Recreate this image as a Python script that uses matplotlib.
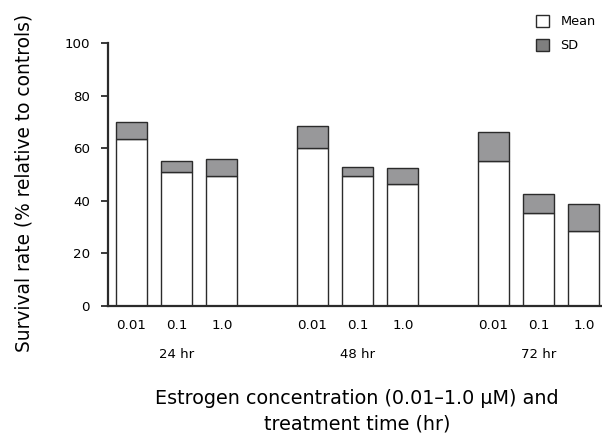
import numpy as np
import matplotlib
matplotlib.use("Agg")
import matplotlib.pyplot as plt
from matplotlib.patches import Patch

# values
groups = ["24 hr", "48 hr", "72 hr"]
concentrations = ["0.01", "0.1", "1.0"]
mean_24 = [63.5, 51.0, 49.4]
mean_48 = [60.0, 49.4, 46.5]
mean_72 = [55.1, 35.5, 28.4]
sd_24 = [6.5, 4.3, 6.5]
sd_48 = [8.4, 3.6, 5.8]
sd_72 = [11.2, 7.0, 10.5]
y_ticks = [0, 20, 40, 60, 80, 100]

EDGE = "#2b2b2b"
GRAY = "#98989a"
FONT = "DejaVu Sans"


def main():
    means = [mean_24, mean_48, mean_72]
    sds = [sd_24, sd_48, sd_72]

    fig = plt.figure(figsize=(6.02, 4.36), dpi=100)
    ax = fig.add_axes([108 / 602, 1 - 306 / 436, 1 - 108 / 602, (306 - 43) / 436])

    xpos, xlab = [], []
    for g, (m, s) in enumerate(zip(means, sds)):
        x = np.arange(3) + 4 * g
        ax.bar(x, m, width=0.685, color="white", edgecolor=EDGE, linewidth=1.0, zorder=2)
        ax.bar(x, s, bottom=m, width=0.685, color=GRAY, edgecolor=EDGE, linewidth=1.0, zorder=2)
        xpos.extend(x)
        xlab.extend(concentrations)
        ax.text(x[1], -0.186, groups[g], transform=ax.get_xaxis_transform(),
                ha="center", va="center", fontsize=9.5, family=FONT)

    ax.set_xlim(-0.513, 10.40)
    ax.set_ylim(0, 100)
    ax.set_xticks(xpos)
    ax.set_xticklabels(xlab, fontsize=9.7, family=FONT)
    ax.tick_params(axis="x", length=0, pad=9)
    ax.set_yticks(y_ticks)
    ax.set_yticklabels([str(v) for v in y_ticks], fontsize=9.6, family=FONT)
    ax.tick_params(axis="y", length=5, width=1.3, pad=8, color=EDGE)

    for side in ["top", "right"]:
        ax.spines[side].set_visible(False)
    for side in ["left", "bottom"]:
        ax.spines[side].set_linewidth(1.6)
        ax.spines[side].set_color(EDGE)

    fig.text(357 / 602, 1 - 411 / 436, "Estrogen concentration (0.01\u20131.0 \u03bcM) and\ntreatment time (hr)",
             ha="center", va="center", fontsize=13.8, family=FONT, linespacing=1.42)
    fig.text(24 / 602, 1 - 183 / 436, "Survival rate (% relative to controls)", rotation=90,
             ha="center", va="center", fontsize=13.4, family=FONT)

    handles = [Patch(facecolor="white", edgecolor=EDGE, linewidth=1.0),
               Patch(facecolor="#7f7f7f", edgecolor=EDGE, linewidth=1.0)]
    fig.legend(handles, ["Mean", "SD"], loc="upper left", bbox_to_anchor=(536 / 602, 1 - 15 / 436),
               frameon=False, prop={"family": FONT, "size": 9.3},
               handlelength=1.0, handleheight=1.0, handletextpad=0.9, labelspacing=0.85,
               borderpad=0, borderaxespad=0)

    fig.savefig("out.png", dpi=100)


if __name__ == "__main__":
    main()
